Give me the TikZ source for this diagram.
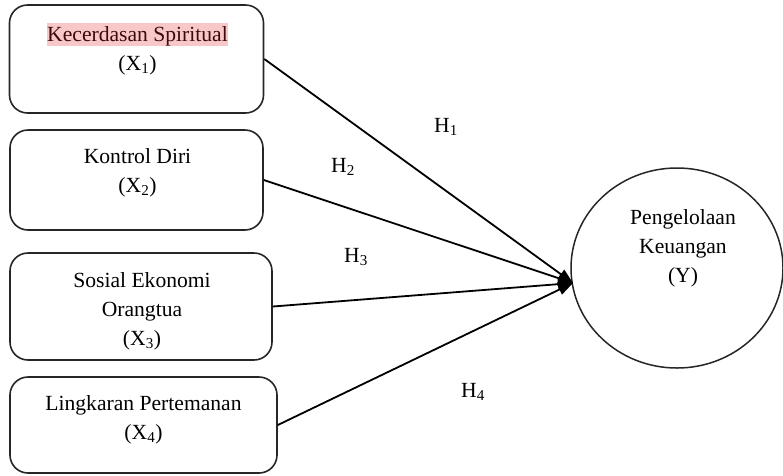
\documentclass[tikz,border=0pt]{standalone}
\usepackage{fontspec}
\setmainfont{Liberation Serif}
\usetikzlibrary{arrows.meta,shapes.geometric}
\definecolor{hlpink}{RGB}{248,200,200}
\definecolor{hltext}{RGB}{60,10,10}
\setlength{\fboxsep}{0pt}
\begin{document}
\begin{tikzpicture}[x=1pt,y=-1pt,
  box/.style={draw=black!85,line width=1.6pt,rounded corners=18pt,rectangle,inner sep=0pt},
  oval/.style={draw=black!85,line width=1.5pt,ellipse,inner sep=0pt},
  txt/.style={align=center,font=\fontsize{21.6}{29}\selectfont,inner sep=0pt},
  link/.style={line width=1.8pt,-{Triangle[length=15pt,width=11pt]}}]
\useasboundingbox (0,0) rectangle (783,475);
% boxes
\node[box,minimum width=254pt,minimum height=108pt] (b1) at (136.5,59) {};
\node[box,minimum width=253pt,minimum height=100pt] (b2) at (136.5,180) {};
\node[box,minimum width=262pt,minimum height=107pt] (b3) at (141,306.5) {};
\node[box,minimum width=267pt,minimum height=96pt] (b4) at (143.5,425) {};
\node[oval,minimum width=212pt,minimum height=200pt] (y) at (677,268) {};
% texts
\node[txt] (t1) at (137.5,49) {\colorbox{hlpink}{\rule[-4.5pt]{0pt}{22.5pt}\textcolor{hltext}{Kecerdasan Spiritual}}\\(X\textsubscript{1})};
\node[txt] (t2) at (137.5,173) {Kontrol Diri\\(X\textsubscript{2})};
\node[txt] (t3) at (142,311) {Sosial Ekonomi\\Orangtua\\(X\textsubscript{3})};
\node[txt] (t4) at (143.5,420) {Lingkaran Pertemanan\\(X\textsubscript{4})};
\node[txt] (ty) at (683,248) {Pengelolaan\\Keuangan\\(Y)};
% hypothesis labels
\node[txt] (h1) at (446,127) {H\textsubscript{1}};
\node[txt] (h2) at (343,167) {H\textsubscript{2}};
\node[txt] (h3) at (356,257) {H\textsubscript{3}};
\node[txt] (h4) at (473,392) {H\textsubscript{4}};
% connectors
\coordinate (tip) at (573,283);
\draw[link] (b1.east) -- (tip);
\draw[link] (b2.east) -- (tip);
\draw[link] (b3.east) -- (tip);
\draw[link] (b4.east) -- (tip);
\end{tikzpicture}
\end{document}
